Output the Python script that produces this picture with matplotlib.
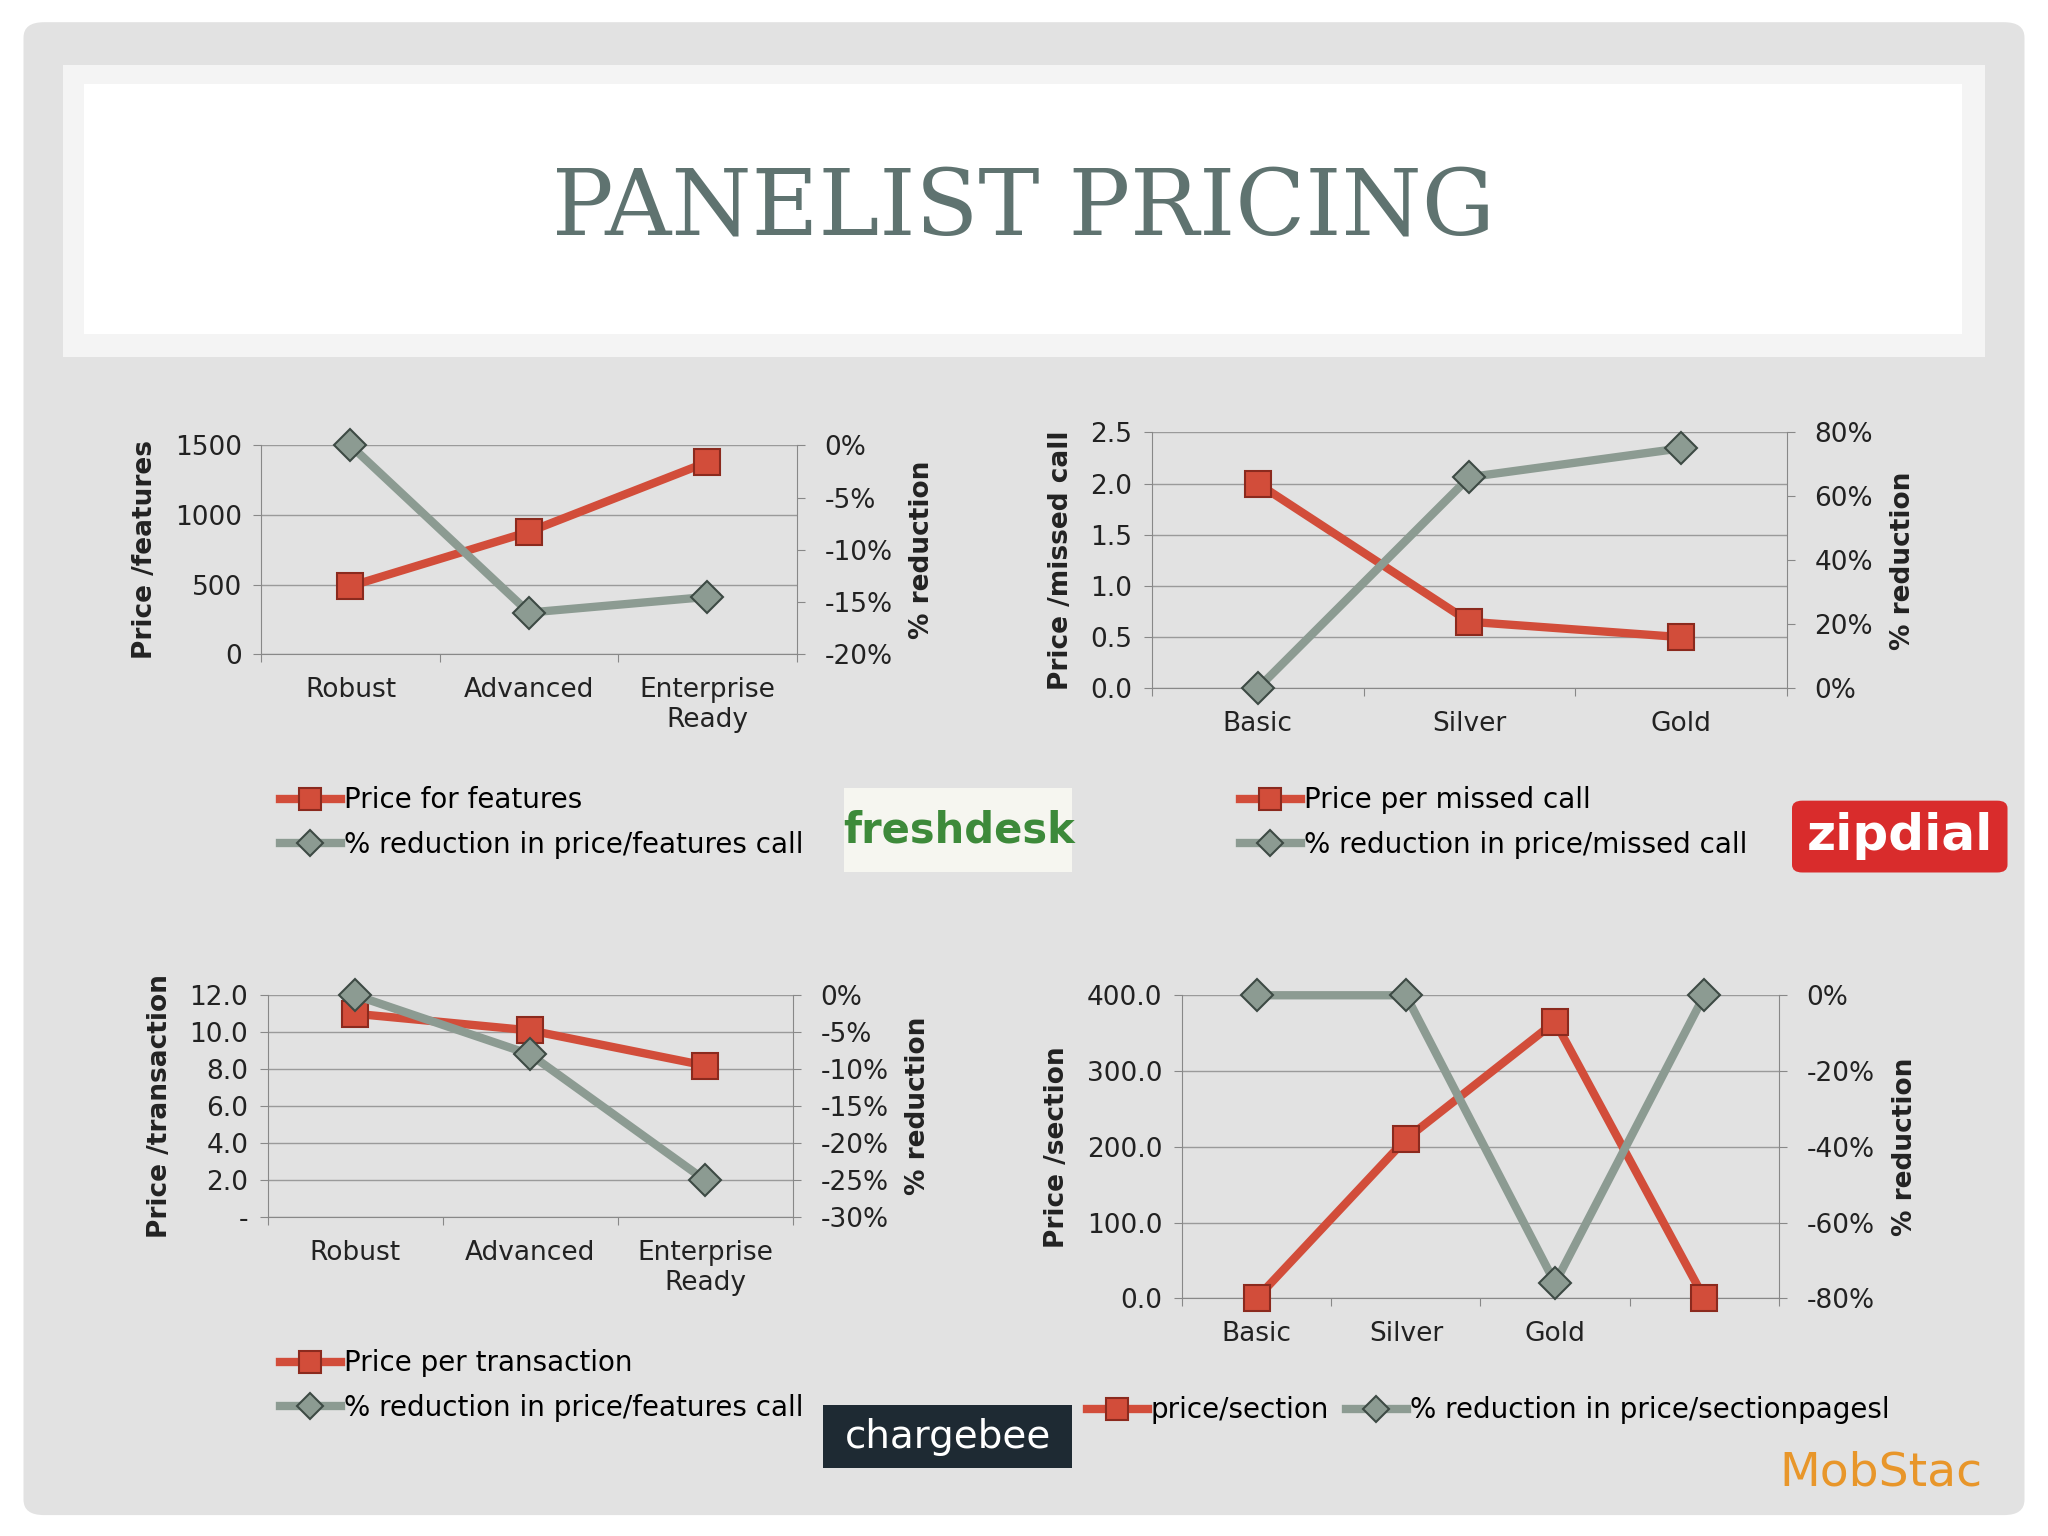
import matplotlib
matplotlib.use("Agg")
import matplotlib.pyplot as plt
from matplotlib.patches import FancyBboxPatch, Rectangle
from matplotlib.ticker import FuncFormatter, MultipleLocator
import numpy as np

# ---- data ----
cats1 = ["Robust", "Advanced", "Enterprise\nReady"]
price1 = [490, 880, 1380]
red1 = [0, -16, -14.5]

cats2 = ["Basic", "Silver", "Gold"]
price2 = [2.0, 0.65, 0.5]
red2 = [0, 66, 75]

cats3 = ["Robust", "Advanced", "Enterprise\nReady"]
price3 = [11.0, 10.1, 8.2]
red3 = [0, -8, -25]

cats4 = ["Basic", "Silver", "Gold", ""]
price4 = [0, 210, 365, 0]
red4 = [0, 0, -76, 0]

RED = "#d24d3a"; RED_E = "#8b2a1e"
GRAY = "#8c9b92"; GRAY_E = "#3d4a44"
FS = 19

fig = plt.figure(figsize=(20.48, 15.36), dpi=100)
fig.patch.set_facecolor("white")
W, H = 1568, 1176
def fx(x): return x / W
def fy(y): return 1 - y / H

fig.patches.append(FancyBboxPatch((fx(18), fy(1160)), fx(1532), 1143 / H, boxstyle="round,pad=0,rounding_size=0.01",
                                  transform=fig.transFigure, facecolor="#e2e2e2", edgecolor="none", zorder=-10))
fig.patches.append(Rectangle((fx(48), fy(273)), fx(1472), 223 / H, transform=fig.transFigure,
                             facecolor="#f4f4f4", edgecolor="none", zorder=-9))
fig.patches.append(Rectangle((fx(64), fy(256)), fx(1438), 192 / H, transform=fig.transFigure,
                             facecolor="white", edgecolor="none", zorder=-8))
fig.text(0.5, fy(160), "PANELIST PRICING", ha="center", va="center", family="DejaVu Serif",
         fontsize=66, color="#5f7370")

def chart(rect, cats, price, red, ylim, ystep, yfmt, rlim, rstep, ylab, leg, leg_pos, leg_ncol=1):
    ax = fig.add_axes(rect)
    ax.set_facecolor("none")
    x = np.arange(len(cats))
    ax.set_xlim(-0.5, len(cats) - 0.5)
    ax.set_ylim(*ylim)
    ax.yaxis.set_major_locator(MultipleLocator(ystep))
    ax.yaxis.set_major_formatter(FuncFormatter(yfmt))
    ax.grid(axis="y", color="#9a9a9a", lw=1)
    ax.set_axisbelow(True)
    ax.set_xticks(np.arange(len(cats) + 1) - 0.5, minor=False)
    ax.set_xticklabels([])
    ax.set_xticks(x, minor=True)
    ax.set_xticklabels(cats, minor=True, fontsize=FS, color="#222")
    ax.tick_params(axis="x", which="minor", length=0, pad=16)
    ax.tick_params(axis="x", which="major", length=6, color="#888")
    ax.tick_params(axis="y", labelsize=FS, colors="#888", labelcolor="#222", length=6, pad=8)
    for s in ["top", "right"]:
        ax.spines[s].set_visible(False)
    for s in ["left", "bottom"]:
        ax.spines[s].set_color("#888")
    ax.set_ylabel(ylab[0], fontsize=FS, fontweight="bold", color="#222", labelpad=12)
    ax2 = ax.twinx()
    ax2.set_ylim(*rlim)
    ax2.yaxis.set_major_locator(MultipleLocator(rstep))
    ax2.yaxis.set_major_formatter(FuncFormatter(lambda v, p: f"{v:.0f}%"))
    ax2.tick_params(axis="y", labelsize=FS, colors="#888", labelcolor="#222", length=6, pad=14)
    for s in ["top", "left", "bottom"]:
        ax2.spines[s].set_visible(False)
    ax2.spines["right"].set_color("#888")
    ax2.set_ylabel(ylab[1], fontsize=FS, fontweight="bold", color="#222", labelpad=12)
    l1, = ax.plot(x, price, color=RED, lw=6, marker="s", ms=19, mfc=RED, mec=RED_E, mew=1.5,
                  clip_on=False, zorder=3)
    l2, = ax2.plot(x, red, color=GRAY, lw=6, marker="D", ms=16, mfc=GRAY, mec=GRAY_E, mew=1.5,
                   clip_on=False, zorder=3)
    fig.legend([l1, l2], leg, loc="upper left", bbox_to_anchor=leg_pos, ncol=leg_ncol, frameon=False,
               fontsize=FS + 1, handlelength=2.2, handletextpad=0.1, labelspacing=0.6, columnspacing=0.6,
               markerscale=0.8)
    return ax

chart([fx(200), fy(501), fx(410), 160 / H], cats1, price1, red1, (0, 1500), 500,
      lambda v, p: f"{v:.0f}", (-20, 0), 5, ("Price /features", "% reduction"),
      ["Price for features", "% reduction in price/features call"], (fx(195), fy(583)))
chart([fx(882), fy(527), fx(486), 196 / H], cats2, price2, red2, (0, 2.5), 0.5,
      lambda v, p: f"{v:.1f}", (0, 80), 20, ("Price /missed call", "% reduction"),
      ["Price per missed call", "% reduction in price/missed call"], (fx(930), fy(583)))
chart([fx(205), fy(932), fx(402), 170 / H], cats3, price3, red3, (0, 12), 2,
      lambda v, p: "-" if abs(v) < 1e-9 else f"{v:.1f}", (-30, 0), 5, ("Price /transaction", "% reduction"),
      ["Price per transaction", "% reduction in price/features call"], (fx(195), fy(1014)))
chart([fx(905), fy(994), fx(457), 232 / H], cats4, price4, red4, (0, 400), 100,
      lambda v, p: f"{v:.1f}", (-80, 0), 20, ("Price /section", "% reduction"),
      ["price/section", "% reduction in price/sectionpagesl"], (fx(813), fy(1050)), leg_ncol=2)

# logos
fig.patches.append(Rectangle((fx(646), fy(668)), fx(175), 65 / H, transform=fig.transFigure,
                             facecolor="#f6f6f0", edgecolor="none"))
fig.text(fx(734), fy(636), "freshdesk", ha="center", va="center", fontsize=30, fontweight="bold",
         color="#3d8a3a")
fig.patches.append(FancyBboxPatch((fx(1372), fy(668)), fx(165), 55 / H, boxstyle="round,pad=0,rounding_size=0.005",
                                  transform=fig.transFigure, facecolor="#d92c2c", edgecolor="none"))
fig.text(fx(1455), fy(640), "zipdial", ha="center", va="center", fontsize=36, fontweight="bold", color="white")
fig.patches.append(Rectangle((fx(630), fy(1124)), fx(191), 48 / H, transform=fig.transFigure,
                             facecolor="#1e2a33", edgecolor="none"))
fig.text(fx(726), fy(1100), "chargebee", ha="center", va="center", fontsize=28, color="white")
fig.text(fx(1440), fy(1128), "MobStac", ha="center", va="center", fontsize=34, color="#e8962a")

fig.savefig("out.png", dpi=100, facecolor=fig.get_facecolor())
